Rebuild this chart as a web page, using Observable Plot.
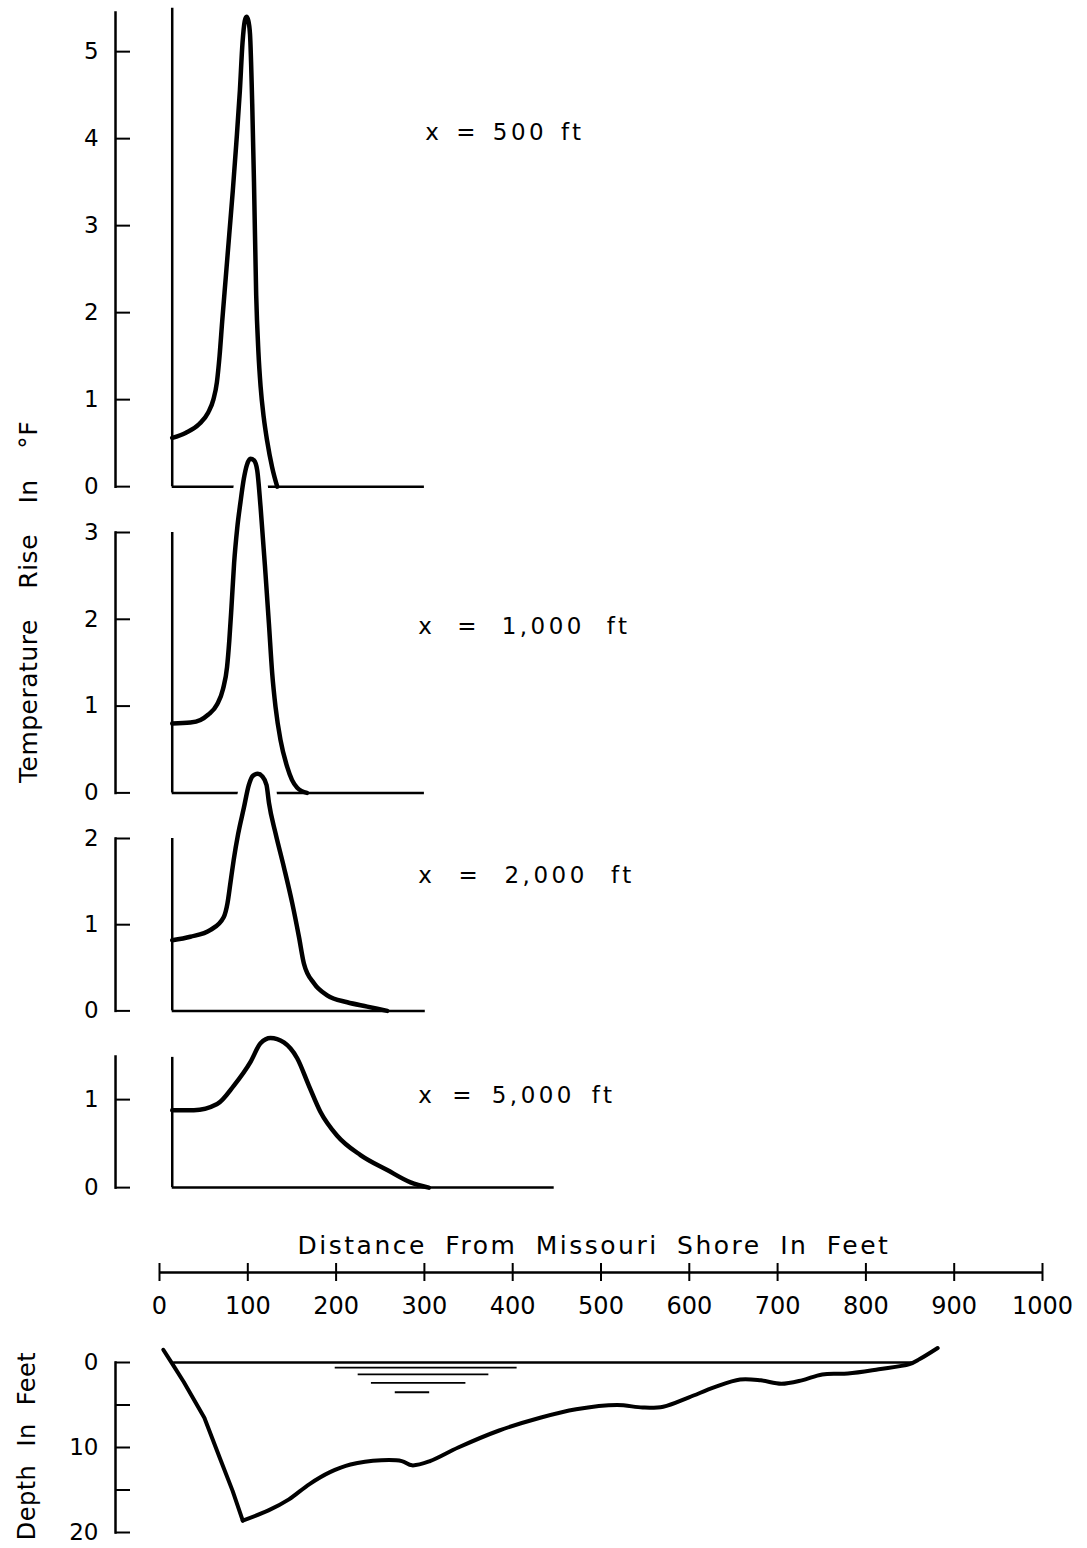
<!DOCTYPE html>
<html>
<head>
<meta charset="utf-8">
<script src="https://cdn.jsdelivr.net/npm/d3@7"></script>
<script src="https://cdn.jsdelivr.net/npm/@observablehq/plot@0.6"></script>
<style>
  html, body { margin: 0; padding: 0; background: #fff; }
  #chart { position: relative; width: 1087px; height: 1548px; overflow: hidden; background: #fff; }
  #chart svg { position: absolute; left: 0; }
  .title { position: absolute; white-space: nowrap; color: #000; font-family: "DejaVu Sans", sans-serif;
           font-size: 24px; transform-origin: center center; }
</style>
</head>
<body>
<div id="chart"></div>
<script>
// ---------------- DATA ----------------
const panelLabels = ["x = 500 ft", "x = 1,000 ft", "x = 2,000 ft", "x = 5,000 ft"];

// temperature rise (°F) vs distance from Missouri shore (ft)
const dist500 = [14.4, 30, 45, 55, 61, 65, 68, 71, 75, 79, 83, 87, 91, 94, 96.5, 98.5, 100.5, 102.5, 105, 107, 109.5, 112, 114.5, 118, 122, 127.6, 133.3];
const rise500 = [0.56, 0.62, 0.72, 0.85, 1.0, 1.2, 1.5, 1.9, 2.4, 2.9, 3.4, 3.95, 4.55, 5.1, 5.35, 5.40, 5.36, 5.2, 4.4, 3.5, 2.2, 1.55, 1.15, 0.8, 0.52, 0.22, 0];

const dist1000 = [14.4, 35, 46.4, 55, 65.3, 72, 76.5, 79, 81.5, 84.5, 88, 91.7, 95.5, 99, 103, 107, 110.6, 114.4, 120, 123.9, 127.6, 131.4, 137, 144.6, 150, 155.9, 167];
const rise1000 = [0.80, 0.81, 0.84, 0.9, 1.02, 1.2, 1.45, 1.75, 2.14, 2.65, 3.05, 3.35, 3.62, 3.78, 3.85, 3.83, 3.72, 3.3, 2.53, 1.95, 1.38, 0.99, 0.61, 0.30, 0.15, 0.06, 0];

const dist2000 = [14.4, 35, 57.8, 72.8, 77, 80.5, 84, 89, 95.4, 101.1, 106, 111.3, 116.5, 121.2, 124, 131.4, 140.8, 150.3, 157.9, 163.5, 174.9, 189.9, 212.6, 235.3, 258];
const rise2000 = [0.82, 0.86, 0.94, 1.09, 1.25, 1.5, 1.75, 2.05, 2.35, 2.62, 2.73, 2.75, 2.72, 2.62, 2.41, 2.06, 1.67, 1.25, 0.86, 0.55, 0.32, 0.18, 0.10, 0.05, 0];

const dist5000 = [14.4, 38.9, 65.3, 84.2, 103.1, 114.4, 125.7, 140.8, 155.9, 169.1, 182.3, 201.2, 227.6, 257.9, 284.3, 305];
const rise5000 = [0.88, 0.88, 0.95, 1.16, 1.43, 1.64, 1.70, 1.65, 1.47, 1.16, 0.86, 0.59, 0.37, 0.20, 0.06, 0];

const tempTicks = [[0, 1, 2, 3, 4, 5], [0, 1, 2, 3], [0, 1, 2], [0, 1]];
const axisTop = [5.45, 3, 2, 1.49];          // top of each temperature axis (°F)
const innerTop = [5.5, 3, 2, 1.48];          // top of the inner vertical line (°F)
const profileStart = [14.4, 14.4, 14.4, 14.4]; // ft
const baselineEnd = [300, 300, 301, 447];    // ft

// distance scale
const distanceTicks = [0, 100, 200, 300, 400, 500, 600, 700, 800, 900, 1000];

// river cross-section (depth in feet)
const depthTicks = [0, 5, 10, 15, 20];
const bedDist = [4.3, 16, 27.5, 50.8, 68.2, 82.8, 94.3, 123.4, 146.6, 169.9, 193.1, 216.3, 251.2, 274.4, 286, 306.3, 338.3, 384.7, 431.1, 471.8, 518.3, 547.3, 570.5, 599.7, 628.7, 657.6, 681, 704.2, 727.4, 750.6, 779.6, 814.5, 849.4, 861, 881.3];
const bedDepth = [-1.5, 0.4, 2.3, 6.5, 11.2, 15.1, 18.6, 17.4, 16.1, 14.3, 12.9, 12.0, 11.5, 11.6, 12.1, 11.6, 10.0, 8.0, 6.5, 5.5, 5.0, 5.3, 5.2, 4.1, 2.9, 2.0, 2.1, 2.5, 2.1, 1.4, 1.3, 0.8, 0.2, -0.4, -1.7];
const surfaceFrom = [16], surfaceTo = [855];
const markFrom = [199, 225, 240, 267];
const markTo = [405, 373, 347, 306];
const markDepth = [0.6, 1.4, 2.4, 3.5];

// ---------------- LAYOUT ----------------
const W = 1087, ML = 115, MR = 45;
const xScale = {domain: [0, 1000], range: [159, 1042]};
const panelZeroPx = [486.5, 792.7, 1010.7, 1187.3];
const pxPerDeg = [87, 86.8, 86.2, 88];
const labelAt = [[301, 4.07], [293, 1.91], [293, 1.57], [293, 1.05]];
const labelWordSpacing = [3, 11, 12.4, 6];
const font = "'DejaVu Sans', sans-serif";
const baseStyle = {background: "transparent", overflow: "visible", fontFamily: font, fontSize: "23px", color: "#000"};
const fmt = d => String(d);

const chart = document.getElementById("chart");
const profiles = [[dist500, rise500], [dist1000, rise1000], [dist2000, rise2000], [dist5000, rise5000]]
  .map(([d, r]) => d.map((v, j) => ({dist: v, rise: r[j]})));

profiles.forEach((data, i) => {
  const mt = 10, mb = 10;
  const h = axisTop[i] * pxPerDeg[i] + mt + mb;
  const curve = "monotone-x";
  const svg = Plot.plot({
    width: W, height: h, marginTop: mt, marginBottom: mb, marginLeft: ML, marginRight: MR,
    x: {...xScale, axis: null},
    y: {domain: [0, axisTop[i]]},
    style: baseStyle,
    marks: [
      // white knock-out so the curve interrupts the panel above, as in the original drawing
      Plot.areaY(data, {x: "dist", y: "rise", fill: "white", curve}),
      Plot.line(data, {x: "dist", y: "rise", stroke: "white", strokeWidth: 18, curve}),
      Plot.frame({anchor: "left", strokeWidth: 2.5}),
      Plot.axisY(tempTicks[i], {tickSize: -15, tickPadding: 32, fontSize: 23, strokeWidth: 2, label: null, tickFormat: fmt}),
      Plot.ruleX([profileStart[i]], {y1: 0, y2: innerTop[i], strokeWidth: 2.5}),
      Plot.ruleY([0], {x1: profileStart[i], x2: baselineEnd[i], strokeWidth: 2.5}),
      Plot.line(data, {x: "dist", y: "rise", strokeWidth: 4.5, curve}),
      Plot.text([panelLabels[i]], {x: labelAt[i][0], y: labelAt[i][1], text: d => d, textAnchor: "start", fontSize: 23})
    ]
  });
  d3.select(svg).selectAll("g[aria-label='text'] text")
    .style("letter-spacing", "3.5px").style("word-spacing", labelWordSpacing[i] + "px");
  svg.style.top = (panelZeroPx[i] - axisTop[i] * pxPerDeg[i] - mt) + "px";
  chart.appendChild(svg);
});

// distance axis strip
{
  const svg = Plot.plot({
    width: W, height: 58, marginTop: 0, marginBottom: 40, marginLeft: ML, marginRight: MR,
    x: xScale,
    y: {domain: [-1, 1], axis: null},
    style: baseStyle,
    marks: [
      Plot.ruleY([0], {x1: d3.min(distanceTicks), x2: d3.max(distanceTicks), strokeWidth: 2.5}),
      Plot.ruleX(distanceTicks, {strokeWidth: 2}),
      Plot.axisX(distanceTicks, {anchor: "bottom", tickSize: 0, tickPadding: 15, fontSize: 24, label: null, tickFormat: fmt})
    ]
  });
  svg.style.top = "1263px";
  chart.appendChild(svg);
}

// depth cross-section
{
  const bed = bedDist.map((d, j) => ({dist: d, depth: bedDepth[j]}));
  const deepest = d3.greatest(bed, d => d.depth).dist;
  const marksData = markFrom.map((f, j) => ({from: f, to: markTo[j], depth: markDepth[j]}));
  const mt = 20, mb = 10, ppf = 8.5;
  const svg = Plot.plot({
    width: W, height: 20 * ppf + mt + mb, marginTop: mt, marginBottom: mb, marginLeft: ML, marginRight: MR,
    x: {...xScale, axis: null},
    y: {domain: [0, 20], reverse: true},
    style: baseStyle,
    marks: [
      Plot.frame({anchor: "left", strokeWidth: 2.5}),
      Plot.axisY(depthTicks, {tickSize: -15, tickPadding: 32, fontSize: 23, strokeWidth: 2, label: null,
        tickFormat: d => d % 10 === 0 ? String(d) : ""}),
      Plot.ruleY([0], {x1: surfaceFrom[0], x2: surfaceTo[0], strokeWidth: 2.5}),
      Plot.ruleY(marksData, {y: "depth", x1: "from", x2: "to", strokeWidth: 1.8}),
      // steep Missouri bank (straight) and the rest of the bed (smooth)
      Plot.line(bed.filter(d => d.dist <= deepest), {x: "dist", y: "depth", strokeWidth: 4, strokeLinecap: "round"}),
      Plot.line(bed.filter(d => d.dist >= deepest), {x: "dist", y: "depth", strokeWidth: 4, curve: "catmull-rom", strokeLinecap: "round"})
    ]
  });
  svg.style.top = (1361.7 - mt) + "px";
  chart.appendChild(svg);
}

// axis titles
function addTitle(text, cx, cy, rotate, extra) {
  const el = document.createElement("div");
  el.className = "title";
  el.textContent = text;
  el.style.left = cx + "px";
  el.style.top = cy + "px";
  el.style.transform = `translate(-50%, -50%)${rotate ? " rotate(-90deg)" : ""}`;
  if (extra) Object.assign(el.style, extra);
  chart.appendChild(el);
}
addTitle("Temperature Rise In °F", 28, 602, true, {fontSize: "25px", wordSpacing: "22px", letterSpacing: "0.5px"});
addTitle("Distance From Missouri Shore In Feet", 594, 1245, false, {fontSize: "25px", wordSpacing: "8px", letterSpacing: "2.5px"});
addTitle("Depth In Feet", 27, 1446, true, {fontSize: "24px", wordSpacing: "10px", letterSpacing: "0.5px"});
</script>
</body>
</html>
